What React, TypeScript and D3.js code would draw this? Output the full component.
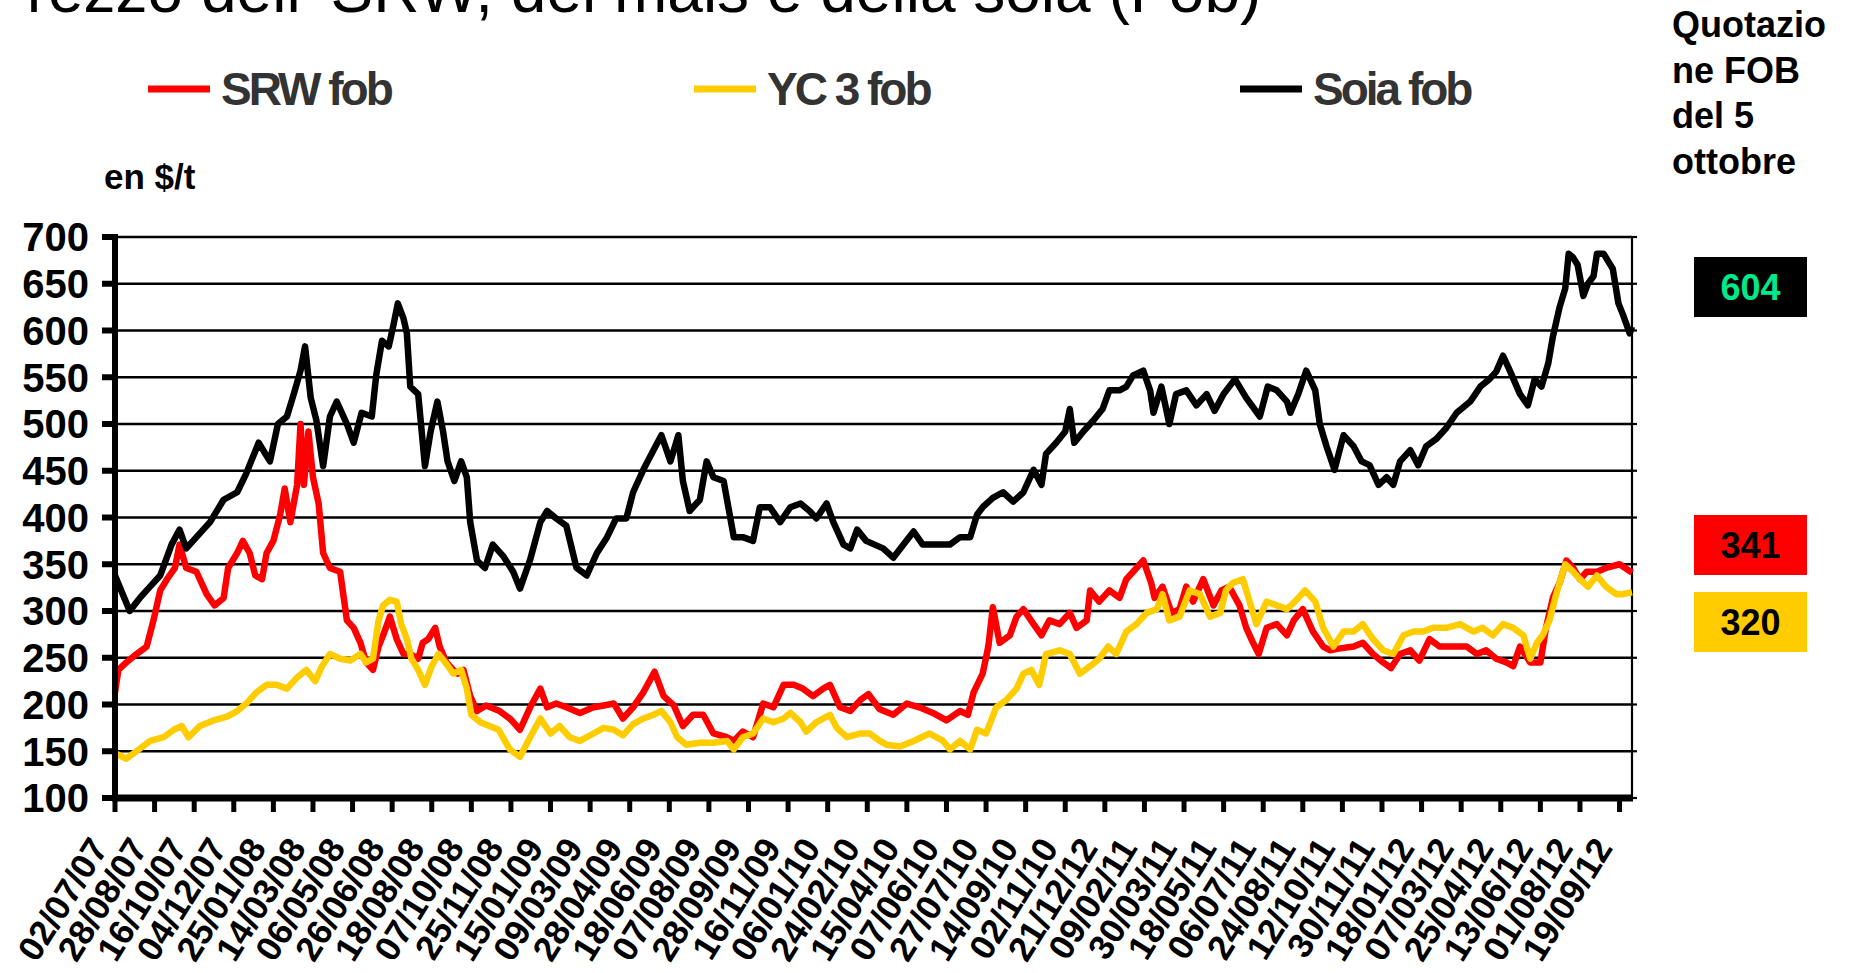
import React from "react";
import * as d3 from "d3";

const TITLE = "Prezzo dell' SRW, del mais e della soia (Fob)";
const UNIT_LABEL = "en $/t";
const QUOTE_LINES = ["Quotazio", "ne FOB", "del 5", "ottobre"];

const X_LABELS = [
  "02/07/07", "28/08/07", "16/10/07", "04/12/07", "25/01/08", "14/03/08", "06/05/08", "26/06/08",
  "18/08/08", "07/10/08", "25/11/08", "15/01/09", "09/03/09", "28/04/09", "18/06/09", "07/08/09",
  "28/09/09", "16/11/09", "06/01/10", "24/02/10", "15/04/10", "07/06/10", "27/07/10", "14/09/10",
  "02/11/10", "21/12/12", "09/02/11", "30/03/11", "18/05/11", "06/07/11", "24/08/11", "12/10/11",
  "30/11/11", "18/01/12", "07/03/12", "25/04/12", "13/06/12", "01/08/12", "19/09/12",
];
const N_POINTS = 1342; // trading days shown
const LABEL_EVERY = 35; // a label every 35 trading days
const Y_TICKS = [100, 150, 200, 250, 300, 350, 400, 450, 500, 550, 600, 650, 700];

const SERIES_NAMES = ["SRW fob", "YC 3 fob", "Soia fob"];
const SERIES_COLORS = ["#ff0000", "#ffcc00", "#000000"];
const LAST_VALUES = [341, 320, 604];

// [trading-day index, $/t]
const SRW: [number, number][] = [
  [0,213],[3,237],[10,245],[19,254],[28,262],[34,290],[40,322],[46,334],[53,346],[57,371],[63,346],[72,342],[81,318],[88,306],[96,314],[100,346],[108,362],[113,375],[119,362],[124,338],[130,334],[134,362],[140,375],[146,403],[150,431],[155,395],[161,435],[164,500],[167,435],[171,492],[175,443],[180,415],[184,362],[190,346],[199,342],[205,290],[211,282],[217,266],[222,245],[228,237],[233,262],[237,274],[243,294],[249,270],[255,254],[261,254],[268,249],[272,266],[277,270],[283,282],[287,262],[293,245],[299,237],[303,233],[308,237],[314,209],[320,193],[328,199],[340,193],[349,185],[358,173],[367,197],[376,217],[382,197],[390,201],[399,197],[411,191],[423,197],[432,199],[441,201],[449,185],[458,197],[467,213],[477,235],[485,209],[494,199],[502,177],[511,189],[520,189],[529,169],[541,165],[547,161],[555,171],[564,165],[573,201],[582,197],[591,221],[600,221],[608,217],[617,209],[626,217],[632,221],[641,197],[650,193],[659,205],[666,211],[676,195],[688,189],[700,201],[711,197],[723,191],[735,183],[747,193],[754,189],[759,213],[767,233],[772,262],[776,304],[782,266],[791,274],[797,294],[803,302],[812,286],[819,274],[826,290],[835,286],[844,298],[850,282],[859,290],[862,322],[870,310],[879,322],[888,314],[894,334],[903,346],[909,354],[916,330],[919,314],[926,326],[934,298],[941,302],[947,326],[953,310],[962,334],[971,306],[978,322],[985,326],[994,306],[1000,282],[1006,266],[1011,254],[1018,282],[1027,286],[1036,274],[1042,290],[1050,302],[1059,278],[1068,262],[1074,258],[1083,260],[1095,262],[1103,266],[1112,254],[1121,245],[1128,239],[1136,254],[1145,258],[1153,247],[1162,270],[1171,262],[1183,262],[1195,262],[1204,254],[1212,258],[1221,249],[1230,245],[1236,241],[1242,262],[1251,245],[1260,245],[1265,282],[1271,314],[1277,330],[1283,354],[1289,346],[1295,334],[1301,342],[1310,342],[1318,346],[1330,350],[1341,341],
];

const YC3: [number, number][] = [
  [0,148],[10,142],[19,150],[31,161],[43,165],[52,173],[59,177],[65,165],[75,177],[87,183],[99,187],[108,193],[116,201],[125,213],[134,221],[143,221],[152,217],[161,229],[169,237],[177,225],[183,241],[190,254],[199,249],[208,247],[217,254],[222,245],[228,249],[233,290],[237,306],[243,312],[249,310],[253,286],[258,270],[262,249],[268,237],[274,221],[280,241],[286,254],[292,245],[299,233],[306,237],[311,217],[315,189],[323,181],[331,177],[339,173],[349,152],[358,144],[367,165],[376,185],[385,169],[393,177],[402,165],[411,161],[423,169],[432,175],[441,173],[449,167],[458,179],[467,185],[476,189],[483,193],[491,181],[497,165],[505,157],[517,159],[529,159],[541,161],[547,152],[555,165],[564,169],[573,185],[582,181],[591,185],[597,191],[606,181],[611,171],[620,181],[632,189],[638,175],[647,165],[659,169],[667,169],[676,161],[682,157],[694,155],[706,161],[720,169],[732,161],[738,152],[747,161],[756,152],[762,173],[770,169],[779,197],[788,205],[797,217],[803,233],[810,237],[817,221],[823,254],[835,258],[844,254],[853,233],[862,241],[870,249],[878,262],[885,254],[894,278],[903,286],[912,298],[921,302],[926,318],[932,290],[941,294],[950,322],[959,318],[968,294],[977,298],[982,322],[988,330],[997,334],[1003,310],[1009,286],[1018,310],[1027,306],[1036,302],[1043,310],[1052,322],[1061,310],[1068,282],[1077,262],[1086,278],[1095,278],[1103,286],[1112,270],[1121,258],[1130,254],[1139,274],[1148,278],[1156,278],[1165,282],[1177,282],[1189,286],[1201,278],[1209,282],[1218,274],[1227,286],[1236,282],[1245,274],[1251,249],[1257,266],[1262,274],[1268,290],[1274,318],[1282,350],[1289,342],[1295,334],[1302,326],[1310,338],[1318,326],[1327,318],[1333,318],[1341,320],
];

const SOIA: [number, number][] = [
  [0,338],[13,300],[22,314],[31,326],[40,338],[50,371],[57,387],[63,367],[72,379],[84,395],[96,419],[108,427],[116,447],[127,480],[137,460],[144,500],[152,508],[158,532],[164,557],[168,583],[173,528],[178,504],[184,455],[190,508],[196,524],[205,500],[211,480],[218,512],[227,508],[231,553],[236,589],[242,583],[246,605],[250,629],[255,613],[258,597],[261,540],[268,532],[274,455],[279,492],[285,524],[290,492],[294,460],[300,439],[306,460],[311,443],[314,395],[320,354],[327,346],[334,371],[340,363],[343,359],[352,342],[358,324],[367,355],[376,395],[382,407],[390,399],[399,391],[408,346],[417,338],[426,362],[435,379],[443,399],[452,399],[458,427],[467,451],[476,472],[483,488],[491,460],[498,488],[502,439],[508,407],[517,419],[523,460],[529,443],[538,439],[547,379],[555,379],[564,375],[570,411],[579,411],[588,395],[597,411],[606,415],[614,407],[620,399],[629,415],[635,395],[644,371],[650,367],[656,387],[664,375],[679,367],[688,357],[697,371],[706,385],[714,371],[726,371],[738,371],[747,379],[756,379],[762,403],[767,411],[776,421],[785,427],[794,417],[803,427],[812,451],[819,435],[823,468],[832,480],[840,492],[844,516],[848,480],[856,492],[865,504],[873,516],[879,536],[888,536],[894,540],[900,552],[909,557],[915,536],[918,512],[925,540],[932,500],[938,532],[947,536],[956,520],[965,532],[972,514],[980,532],[990,548],[1000,528],[1012,508],[1019,540],[1027,536],[1036,524],[1039,512],[1046,532],[1053,557],[1061,536],[1065,500],[1071,476],[1078,451],[1086,488],[1095,476],[1102,460],[1109,456],[1117,435],[1124,443],[1130,435],[1136,460],[1145,472],[1152,456],[1159,476],[1168,484],[1177,496],[1186,512],[1198,524],[1207,540],[1215,548],[1221,556],[1227,573],[1233,557],[1242,532],[1249,520],[1255,548],[1261,540],[1267,565],[1271,593],[1277,625],[1282,645],[1285,682],[1289,678],[1293,670],[1298,637],[1302,650],[1307,658],[1310,682],[1316,682],[1320,674],[1324,666],[1329,629],[1333,617],[1339,597],[1341,604],
];

const SERIES = [SRW, YC3, SOIA];

const W = 1852;
const H = 973;
const PLOT = { left: 115, right: 1632, top: 237, bottom: 798 };
const FONT = "'Liberation Sans', Arial, Helvetica, sans-serif";

// value boxes on the right (order: Soia, SRW, YC3 from top)
const BOXES = [
  { series: 2, y: 257, textColor: "#00e88c" },
  { series: 0, y: 515, textColor: "#000000" },
  { series: 1, y: 592, textColor: "#000000" },
];
const LEGEND_X = [148, 694, 1240];

export default function App() {
  const x = d3.scaleLinear().domain([0, N_POINTS - 1]).range([PLOT.left, PLOT.right]);
  const y = d3.scaleLinear().domain([100, 700]).range([PLOT.bottom, PLOT.top]);
  const line = d3
    .line<[number, number]>()
    .x((d) => x(d[0]))
    .y((d) => y(d[1]));

  return (
    <div style={{ position: "absolute", left: 0, top: 0, width: W, height: H, background: "#fff" }}>
      <svg width={W} height={H} style={{ display: "block", overflow: "hidden" }} fontFamily={FONT}>
        <rect x={0} y={0} width={W} height={H} fill="#fff" />
        {/* title, cut by the top edge as in the source image */}
        <text x={-16} y={12} fontSize={64} fill="#000">{TITLE}</text>

        {/* legend */}
        {SERIES_NAMES.map((name, i) => (
          <g key={name}>
            <line x1={LEGEND_X[i]} x2={LEGEND_X[i] + 62} y1={89} y2={89} stroke={SERIES_COLORS[i]} strokeWidth={7} />
            <text x={LEGEND_X[i] + 73} y={105} fontSize={46} fontWeight="bold" fill="#333" letterSpacing={-3}>
              {name}
            </text>
          </g>
        ))}

        <text x={104} y={189} fontSize={35} fontWeight="bold" fill="#000">{UNIT_LABEL}</text>

        {/* right panel */}
        {QUOTE_LINES.map((t, i) => (
          <text key={t} x={1672} y={37 + i * 45.5} fontSize={36} fontWeight="bold" fill="#000">{t}</text>
        ))}
        {BOXES.map((b) => (
          <g key={b.series}>
            <rect x={1694} y={b.y} width={113} height={60} fill={SERIES_COLORS[b.series]} />
            <text x={1694 + 56.5} y={b.y + 30} dy="0.36em" textAnchor="middle" fontSize={36} fontWeight="bold" fill={b.textColor}>
              {LAST_VALUES[b.series]}
            </text>
          </g>
        ))}

        {/* gridlines */}
        {Y_TICKS.map((v) => (
          <line key={v} x1={PLOT.left} x2={PLOT.right} y1={y(v)} y2={y(v)} stroke="#000" strokeWidth={2.6} />
        ))}
        {/* right border with small outward ticks */}
        <line x1={PLOT.right} x2={PLOT.right} y1={PLOT.top} y2={PLOT.bottom} stroke="#000" strokeWidth={2.2} />
        {Y_TICKS.map((v) => (
          <line key={"r" + v} x1={PLOT.right} x2={PLOT.right + 5} y1={y(v)} y2={y(v)} stroke="#000" strokeWidth={2.2} />
        ))}

        {/* series */}
        {SERIES.map((s, i) => (
          <path key={i} d={line(s) || ""} fill="none" stroke={SERIES_COLORS[i]} strokeWidth={6.5} strokeLinejoin="round" />
        ))}

        {/* y axis */}
        <line x1={PLOT.left} x2={PLOT.left} y1={PLOT.top - 3} y2={PLOT.bottom + 3} stroke="#000" strokeWidth={6} />
        {Y_TICKS.map((v) => (
          <g key={"yt" + v}>
            <line x1={PLOT.left - 13} x2={PLOT.left} y1={y(v)} y2={y(v)} stroke="#000" strokeWidth={6} />
            <text x={89} y={y(v)} dy="0.36em" textAnchor="end" fontSize={40} fontWeight="bold" fill="#000">{v}</text>
          </g>
        ))}

        {/* x axis */}
        <line x1={PLOT.left - 3} x2={PLOT.right + 1} y1={PLOT.bottom} y2={PLOT.bottom} stroke="#000" strokeWidth={7} />
        {X_LABELS.map((lab, i) => {
          const tx = x(i * LABEL_EVERY);
          return (
            <g key={lab + i}>
              <line x1={tx} x2={tx} y1={PLOT.bottom} y2={PLOT.bottom + 14} stroke="#000" strokeWidth={5} />
              <text
                transform={`translate(${tx - 6},${848}) rotate(-58)`}
                textAnchor="end"
                fontSize={35}
                fontWeight="bold"
                fill="#000"
              >
                {lab}
              </text>
            </g>
          );
        })}
      </svg>
    </div>
  );
}
